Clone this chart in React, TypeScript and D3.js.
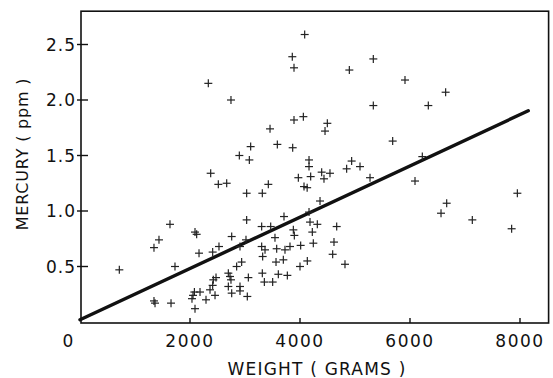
import React from "react";
import * as d3 from "d3";

const weights: number[] = [
  2333, 2745, 4085, 3860, 3891, 5333, 4897, 5333, 3891, 4061,
  3455, 4497, 4455, 3103, 3588, 3867, 2897, 3079, 4164, 4164,
  4939, 5091, 4848, 5909, 6648, 6333, 5685, 6224, 2376, 2515,
  2667, 1636, 2091, 2121, 1436, 1345, 2758, 2164, 2412, 2527,
  715, 1727, 1345, 1364, 1655, 2091, 2055, 2080, 2182, 2291,
  2455, 2364, 2424, 2473, 2412, 2697, 2727, 2697, 2758, 2745,
  2848, 3970, 4194, 4073, 4130, 4394, 4545, 4436, 5273, 3424,
  3030, 3315, 4364, 3709, 4164, 4182, 4315, 4667, 3030, 3303,
  3467, 3879, 3897, 4224, 3018, 3545, 4242, 4618, 4594, 3303,
  3364, 3321, 3576, 3727, 3818, 4012, 2909, 2939, 3564, 3697,
  4000, 4133, 4818, 3061, 3315, 3606, 3770, 3352, 3503, 2909,
  2909, 3042, 6091, 6667, 6564, 7133, 7952, 7848, 2036,
];
const mercury: number[] = [
  2.15, 2.0, 2.59, 2.39, 2.29, 2.37, 2.27, 1.95, 1.82, 1.85,
  1.74, 1.79, 1.72, 1.58, 1.6, 1.57, 1.5, 1.46, 1.46, 1.4,
  1.45, 1.4, 1.38, 2.18, 2.07, 1.95, 1.63, 1.49, 1.34, 1.24,
  1.25, 0.88, 0.81, 0.79, 0.74, 0.67, 0.77, 0.62, 0.63, 0.68,
  0.47, 0.5, 0.19, 0.17, 0.17, 0.12, 0.24, 0.27, 0.27, 0.2,
  0.24, 0.29, 0.38, 0.4, 0.33, 0.44, 0.41, 0.32, 0.26, 0.38,
  0.5, 1.3, 1.31, 1.22, 1.21, 1.35, 1.34, 1.29, 1.3, 1.24,
  1.16, 1.16, 1.09, 0.95, 0.99, 0.9, 0.88, 0.86, 0.92, 0.86,
  0.86, 0.83, 0.78, 0.81, 0.74, 0.76, 0.71, 0.72, 0.61, 0.68,
  0.65, 0.59, 0.66, 0.65, 0.68, 0.69, 0.68, 0.54, 0.54, 0.56,
  0.5, 0.55, 0.52, 0.4, 0.44, 0.43, 0.42, 0.36, 0.36, 0.32,
  0.28, 0.23, 1.27, 1.07, 0.98, 0.92, 1.16, 0.84, 0.21,
];

const xTicks: number[] = [2000, 4000, 6000, 8000];
const yTicks: number[] = [0.5, 1.0, 1.5, 2.0, 2.5];
const fitX: number[] = [0, 8150];
const fitIntercept = 0.02;
const fitSlope = 0.000231;

export default function App() {
  const x = d3.scaleLinear().domain([0, 8000]).range([80, 520]);
  const y = d3.scaleLinear().domain([0, 2.5]).range([322, 44.5]);
  const left = x(0) + 1;
  const right = x(8520);
  const top = y(2.8);
  const bottom = y(0) + 1;
  const line = d3
    .line<number>()
    .x((d) => x(d))
    .y((d) => y(fitIntercept + fitSlope * d));
  const font = "'DejaVu Sans', 'Liberation Sans', sans-serif";
  const arm = 4;
  return (
    <svg
      width={553}
      height={378}
      style={{ position: "absolute", left: 0, top: 0, background: "#fff" }}
    >
      <rect
        x={left}
        y={top}
        width={right - left}
        height={bottom - top}
        fill="none"
        stroke="#111"
        strokeWidth={1.6}
      />
      {xTicks.map((t) => (
        <g key={"xt" + t}>
          <line x1={x(t)} x2={x(t)} y1={bottom} y2={bottom - 5} stroke="#111" strokeWidth={1.4} />
          <text
            x={x(t)}
            y={347}
            textAnchor="middle"
            fontFamily={font}
            fontSize={17}
            letterSpacing={1.5}
            fill="#111"
          >
            {String(t)}
          </text>
        </g>
      ))}
      <text x={x(0) - 12} y={347} textAnchor="middle" fontFamily={font} fontSize={17} fill="#111">
        0
      </text>
      {yTicks.map((t) => (
        <g key={"yt" + t}>
          <line x1={left - 4} x2={left + 7} y1={y(t)} y2={y(t)} stroke="#111" strokeWidth={1.4} />
          <text
            x={76}
            y={y(t) + 6}
            textAnchor="end"
            fontFamily={font}
            fontSize={17}
            letterSpacing={1}
            fill="#111"
          >
            {t.toFixed(1)}
          </text>
        </g>
      ))}
      <text
        x={317}
        y={375}
        textAnchor="middle"
        fontFamily={font}
        fontSize={17}
        letterSpacing={1.2}
        fill="#111"
      >
        WEIGHT ( GRAMS )
      </text>
      <text
        transform={`translate(28,${154}) rotate(-90)`}
        textAnchor="middle"
        fontFamily={font}
        fontSize={16}
        letterSpacing={0.8}
        fill="#111"
      >
        MERCURY ( ppm )
      </text>
      <path d={line(fitX) || ""} fill="none" stroke="#111" strokeWidth={3.4} strokeLinecap="round" />
      {weights.map((w, i) => {
        const cx = x(w);
        const cy = y(mercury[i]);
        return (
          <g key={"p" + i} stroke="#222" strokeWidth={1.2}>
            <line x1={cx - arm} x2={cx + arm} y1={cy} y2={cy} />
            <line x1={cx} x2={cx} y1={cy - arm} y2={cy + arm} />
          </g>
        );
      })}
    </svg>
  );
}
